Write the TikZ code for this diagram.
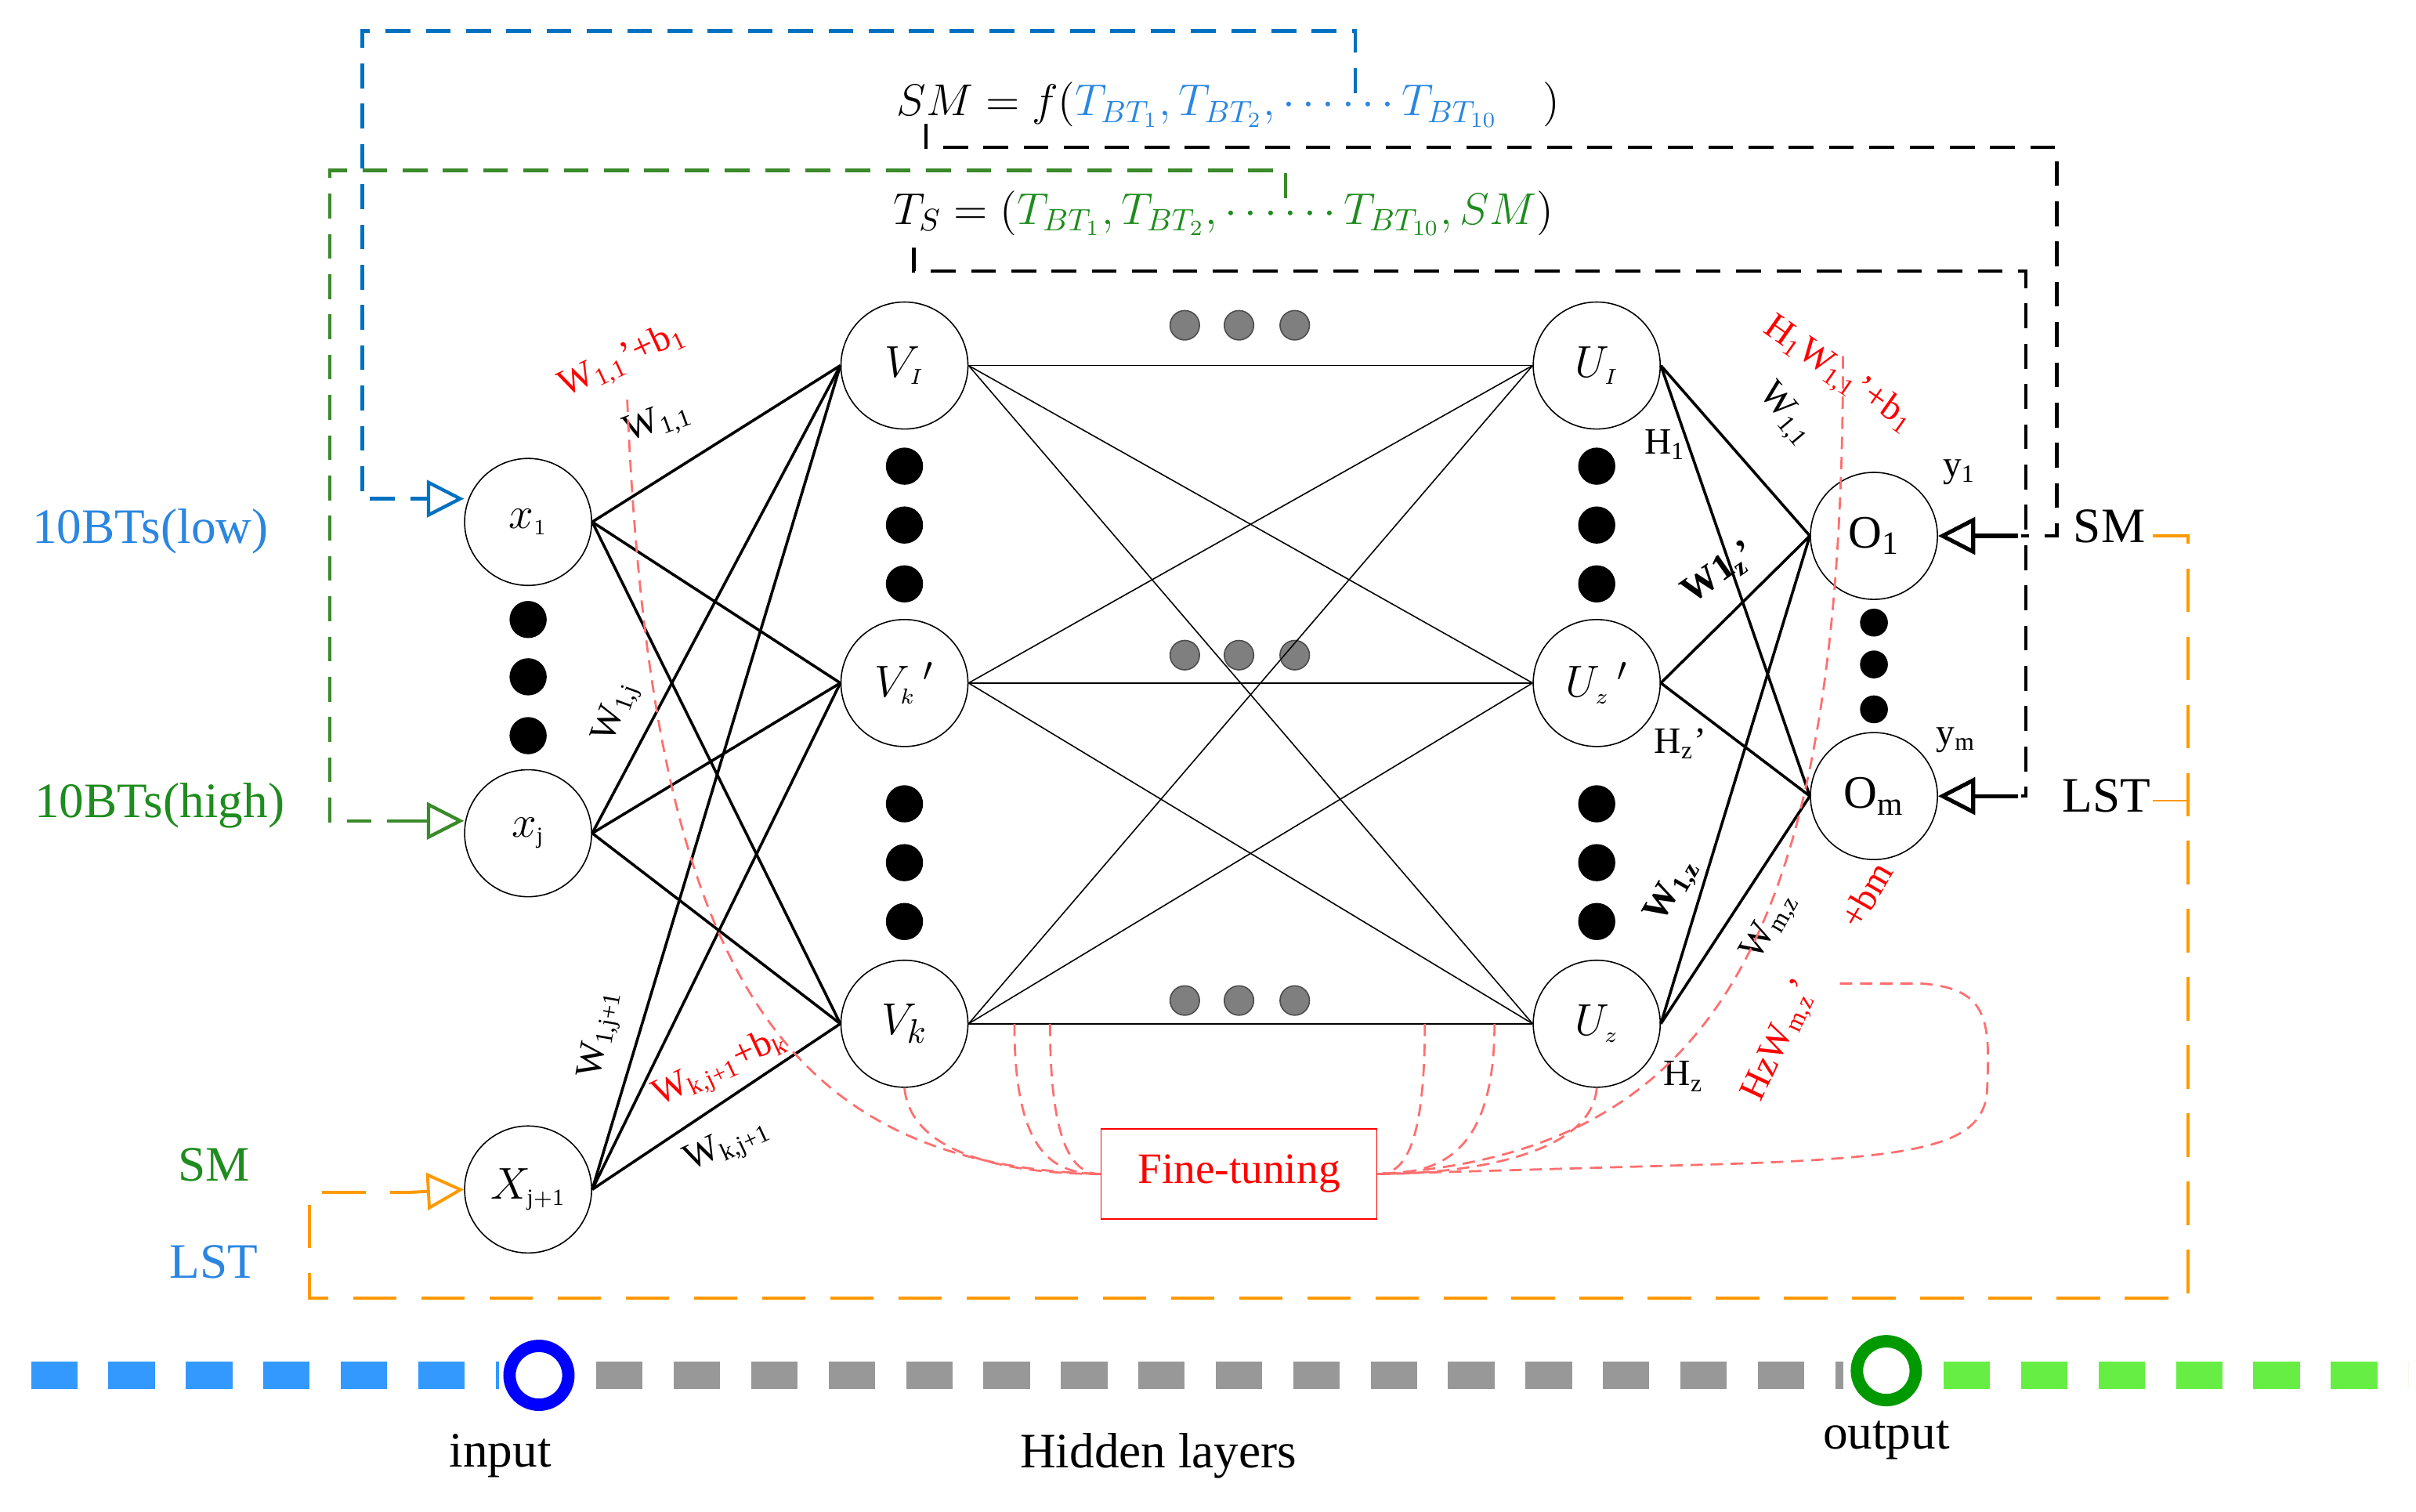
\documentclass[tikz,border=0pt]{standalone}
\usepackage{fontspec}
\setmainfont{Liberation Serif}
\usetikzlibrary{arrows.meta}
\definecolor{cblue}{HTML}{0070C0}
\definecolor{tblue}{HTML}{2A86E0}
\definecolor{cgreen}{HTML}{3A8A2A}
\definecolor{tgreen}{HTML}{1E8C1E}
\definecolor{corange}{HTML}{FF9900}
\definecolor{lred}{HTML}{FF6F6F}
\definecolor{dgray}{HTML}{7F7F7F}
\definecolor{bblue}{HTML}{3399FF}
\definecolor{bgreen}{HTML}{66EE44}
\begin{document}
\begin{tikzpicture}[x=0.5pt,y=-0.5pt,
  neuron/.style={circle,draw,thin,minimum size=41pt,inner sep=0pt,font=\fontsize{15}{16}\selectfont},
  bdot/.style={circle,fill=black,minimum size=12pt,inner sep=0pt},
  sdot/.style={circle,fill=black,minimum size=9pt,inner sep=0pt},
  gdot/.style={circle,fill=dgray,draw=gray!60!black,minimum size=9.5pt,inner sep=0pt},
  conn/.style={line width=0.9pt},
  lab/.style={font=\fontsize{12}{13}\selectfont},
  rlab/.style={font=\fontsize{12}{13}\selectfont,text=red},
  big/.style={font=\fontsize{16}{18}\selectfont},
  fml/.style={font=\fontsize{14.5}{17}\selectfont},
  fb/.style={dash pattern=on 8pt off 5pt, line width=1.1pt},
  ft/.style={lred,dash pattern=on 4pt off 2.5pt,line width=0.7pt},
  tip/.style={-{Triangle[open,length=12pt,width=12pt]}}
]
\useasboundingbox (0,0) rectangle (1560,976);
% neurons
\node[neuron] (x1) at (341,337) {$x_{\scriptscriptstyle 1}$};
\node[neuron] (xj) at (341,538) {$x_{\scriptscriptstyle\mathrm{j}}$};
\node[neuron] (xj1) at (341,768) {$X_{\scriptscriptstyle\mathrm{j+1}}$};
\node[neuron] (V1) at (584,236) {$V_{\scriptscriptstyle I}$};
\node[neuron] (Vkp) at (584,441) {$V_{\scriptscriptstyle k}\,{}^{\prime}$};
\node[neuron] (Vk) at (584,661) {$V_{k}$};
\node[neuron] (U1) at (1031,236) {$U_{\scriptscriptstyle I}$};
\node[neuron] (Uzp) at (1031,441) {$U_{\scriptscriptstyle z}\,{}^{\prime}$};
\node[neuron] (Uz) at (1031,661) {$U_{\scriptscriptstyle z}$};
\node[neuron] (O1) at (1210,346) {O\textsubscript{1}};
\node[neuron] (Om) at (1210,514) {O\textsubscript{m}};
% dots
\foreach \y [count=\i] in {400,437,475} \node[bdot] (dx\i) at (341,\y) {};
\foreach \y [count=\i] in {301,339,377} {\node[bdot] (dv\i) at (584,\y) {}; \node[bdot] (du\i) at (1031,\y) {};}
\foreach \y [count=\i] in {519,557,595} {\node[bdot] (dw\i) at (584,\y) {}; \node[bdot] (dz\i) at (1031,\y) {};}
\foreach \y [count=\i] in {402,429,458} \node[sdot] (do\i) at (1210,\y) {};
\foreach \yy [count=\j] in {210,423,646} \foreach \x [count=\i] in {765,800,836} \node[gdot] (g\j\i) at (\x,\yy) {};
% connections
\foreach \a in {x1,xj,xj1} \foreach \b in {V1,Vkp,Vk} \draw[conn] (\a.east) -- (\b.west);
\foreach \a in {V1,Vkp,Vk} \foreach \b in {U1,Uzp,Uz} \draw[thin] (\a.east) -- (\b.west);
\foreach \a in {U1,Uzp,Uz} \foreach \b in {O1,Om} \draw[conn] (\a.east) -- (\b.west);
% formulas
\node[fml,anchor=west] (f1) at (572,67) {$SM=f\Big(\textcolor{tblue}{T_{BT_1},T_{BT_2},\cdots\cdots T_{BT_{10}}}\quad\Big)$};
\node[fml,anchor=west] (f2) at (570,137) {$T_S=\Big(\textcolor{tgreen}{T_{BT_1},T_{BT_2},\cdots\cdots T_{BT_{10}},SM}\Big)$};
% feedback dashed lines
\draw[cblue,fb] (875,60) -- (875,20) -- (234,20) -- (234,322) -- (270,322);
\draw[cblue,line width=1.1pt,tip] (268,322) -- (x1.west|-0,322);
\draw[cgreen,fb] (830,128) -- (830,110) -- (213,110) -- (213,530) -- (265,530);
\draw[cgreen,line width=1.1pt,tip] (265,530) -- (xj.west|-0,530);
\draw[black,fb] (598,80) -- (598,95) -- (1328,95) -- (1328,346) -- (1305,346);
\draw[black,line width=1.3pt,tip] (1303,346) -- (O1.east);
\draw[black,fb] (590,160) -- (590,175) -- (1308,175) -- (1308,514) -- (1305,514);
\draw[black,line width=1.3pt,tip] (1303,514) -- (Om.east);
\draw[corange,dash pattern=on 14pt off 8pt,line width=1pt] (1390,346) -- (1413,346) -- (1413,838) -- (200,838) -- (200,770) -- (265,770);
\draw[corange,thin] (1390,517) -- (1413,517);
\draw[corange,line width=1pt,tip] (262,770) -- (xj1.west);
% side labels
\node[big,text=tblue] (lowlab) at (97,343) {10BTs(low)};
\node[big,text=tgreen] (highlab) at (103,520) {10BTs(high)};
\node[big,text=tgreen] (smlab) at (138,752) {SM};
\node[big,text=tblue] (lstlab) at (138,815) {LST};
\node[big] (smr) at (1362,340) {SM};
\node[big] (lstr) at (1360,514) {LST};
\node[lab] (y1) at (1265,305) {y\textsubscript{1}};
\node[lab] (ym) at (1263,478) {y\textsubscript{m}};
% weight labels
\node[rlab,rotate=25] at (402,233) {W\textsubscript{1,1}'+b\textsubscript{1}};
\node[lab,rotate=20] at (425,273) {W\textsubscript{1,1}};
\node[lab,rotate=70] at (398,460) {W\textsubscript{1,j}};
\node[lab,rotate=80] at (388,668) {W\textsubscript{1,j+1}};
\node[rlab,rotate=25] at (465,690) {W\textsubscript{k,j+1}+b\textsubscript{k}};
\node[lab,rotate=25] at (470,740) {W\textsubscript{k,j+1}};
\node[rlab,rotate=-35] at (1187,242) {H\textsubscript{1}W\textsubscript{1,1}'+b\textsubscript{1}};
\node[lab,rotate=-50] at (1153,268) {W\textsubscript{1,1}};
\node[lab] at (1075,287) {H\textsubscript{1}};
\node[lab,rotate=35] at (1110,370) {\textbf{W1\textsubscript{z}'}};
\node[lab] at (1085,480) {H\textsubscript{z}'};
\node[lab,rotate=60] at (1080,575) {\textbf{W\textsubscript{1,z}}};
\node[lab,rotate=60] at (1143,598) {W\textsubscript{m,z}};
\node[rlab,rotate=60] at (1205,578) {+bm};
\node[rlab,rotate=65] at (1150,672) {HzW\textsubscript{m,z}'};
\node[lab] at (1087,695) {H\textsubscript{z}};
% fine tuning
\node[draw=red,text=red,minimum width=89pt,minimum height=29pt,font=\fontsize{14}{15}\selectfont] (ft) at (800,758) {Fine-tuning};
\draw[ft] (405,258) .. controls (420,620) and (500,752) .. (ft.west);
\draw[ft] (Vk.south) .. controls (588,745) and (650,758) .. (ft.west);
\draw[ft] (655,661) .. controls (655,745) and (680,758) .. (ft.west);
\draw[ft] (678,661) .. controls (678,745) and (695,758) .. (ft.west);
\draw[ft] (920,661) .. controls (920,745) and (905,758) .. (ft.east);
\draw[ft] (965,661) .. controls (965,745) and (930,758) .. (ft.east);
\draw[ft] (Uz.south) .. controls (1028,745) and (950,758) .. (ft.east);
\draw[ft] (1190,230) .. controls (1190,600) and (1110,745) .. (ft.east);
\draw[ft] (1188,635) -- (1240,635) .. controls (1285,638) and (1285,660) .. (1283,705) .. controls (1280,740) and (1240,748) .. (1100,752) -- (ft.east);
% bottom legend
\draw[bblue,line width=9pt,dash pattern=on 15pt off 10pt] (20,888) -- (322,888);
\draw[dgray!80,line width=9pt,dash pattern=on 15pt off 10pt] (385,888) -- (1190,888);
\draw[bgreen,line width=9pt,dash pattern=on 15pt off 10pt] (1255,888) -- (1555,888);
\node[circle,fill=white,draw=blue,line width=4pt,minimum size=19pt,inner sep=0pt] (inc) at (348,888) {};
\node[circle,fill=white,draw=green!60!black,line width=4pt,minimum size=19pt,inner sep=0pt] (outc) at (1218,885) {};
\node[big] (inl) at (323,940) {input};
\node[big] (hl) at (748,940) {Hidden layers};
\node[big] (outl) at (1218,930) {output};
\end{tikzpicture}
\end{document}
